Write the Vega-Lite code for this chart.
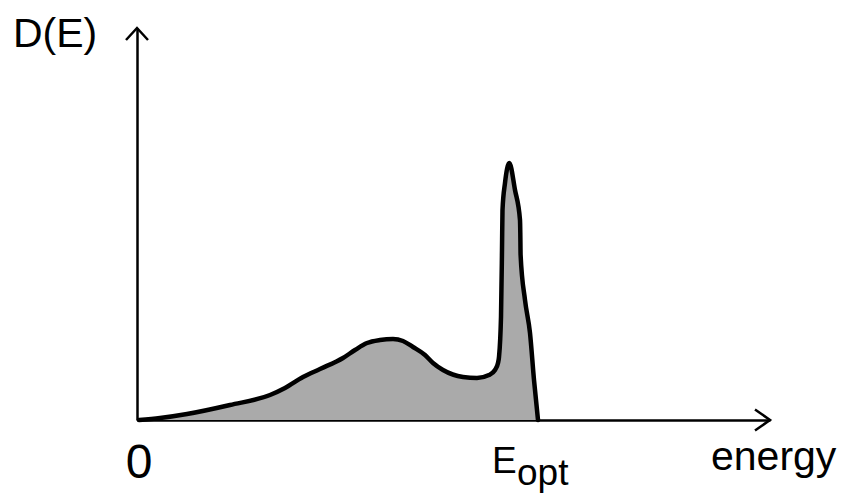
{
  "$schema": "https://vega.github.io/schema/vega-lite/v6.json",
  "width": 633,
  "height": 392,
  "autosize": {"type": "none"},
  "padding": {"left": 137, "top": 28, "right": 75, "bottom": 73},
  "background": "white",
  "config": {"view": {"stroke": null}, "font": "Liberation Sans"},
  "datasets": {
    "curve": [
      {"energy": 2, "D": 0},
      {"energy": 23, "D": 2},
      {"energy": 50, "D": 6},
      {"energy": 93, "D": 15},
      {"energy": 133, "D": 25},
      {"energy": 148, "D": 32},
      {"energy": 166, "D": 43},
      {"energy": 183, "D": 51},
      {"energy": 206, "D": 62},
      {"energy": 218, "D": 70},
      {"energy": 230, "D": 77},
      {"energy": 243, "D": 80},
      {"energy": 256, "D": 81},
      {"energy": 266, "D": 79},
      {"energy": 276, "D": 73},
      {"energy": 288, "D": 65},
      {"energy": 296, "D": 57},
      {"energy": 306, "D": 50},
      {"energy": 326, "D": 43},
      {"energy": 340, "D": 42},
      {"energy": 352, "D": 45},
      {"energy": 358, "D": 50},
      {"energy": 361, "D": 57},
      {"energy": 362, "D": 63},
      {"energy": 364, "D": 103},
      {"energy": 365, "D": 170},
      {"energy": 365.5, "D": 210},
      {"energy": 368, "D": 237},
      {"energy": 372.3, "D": 257},
      {"energy": 378, "D": 230},
      {"energy": 383, "D": 200},
      {"energy": 383.3, "D": 187},
      {"energy": 383.6, "D": 165},
      {"energy": 388, "D": 120},
      {"energy": 393, "D": 87},
      {"energy": 397, "D": 40},
      {"energy": 401, "D": 0}
    ],
    "arrows": [
      {"energy": 633, "D": 0, "dir": "x"},
      {"energy": 0, "D": 392, "dir": "y"}
    ],
    "labels": [
      {"energy": -124, "D": 373, "label": "D(E)"},
      {"energy": 2, "D": -58, "label": "0"},
      {"energy": 355, "D": -53, "label": "E"},
      {"energy": 380, "D": -65, "label": "opt"},
      {"energy": 574, "D": -50, "label": "energy"}
    ]
  },
  "encoding": {
    "x": {"field": "energy", "type": "quantitative", "scale": {"domain": [0, 633], "nice": false, "zero": false}},
    "y": {"field": "D", "type": "quantitative", "scale": {"domain": [0, 392], "nice": false, "zero": false}}
  },
  "layer": [
    {
      "data": {"name": "curve"},
      "mark": {"type": "area", "color": "#aaaaaa", "interpolate": "monotone", "opacity": 1},
      "encoding": {
        "x": {"field": "energy", "type": "quantitative", "axis": {"domain": true, "domainColor": "black", "domainWidth": 2.5, "ticks": false, "labels": false, "grid": false, "title": null}},
        "y": {"field": "D", "type": "quantitative", "axis": {"domain": true, "domainColor": "black", "domainWidth": 2.5, "ticks": false, "labels": false, "grid": false, "title": null}}
      }
    },
    {
      "data": {"name": "curve"},
      "mark": {"type": "line", "color": "black", "strokeWidth": 4.5, "interpolate": "monotone", "strokeJoin": "round", "strokeCap": "round"},
      "encoding": {}
    },
    {
      "data": {"name": "arrows"},
      "mark": {"type": "point", "filled": false, "stroke": "black", "strokeWidth": 2.5, "size": 400, "opacity": 1, "clip": false},
      "encoding": {
        "shape": {"field": "dir", "type": "nominal", "scale": {"domain": ["x", "y"], "range": ["M -1.5 -1.05 L 0 0 L -1.5 1.05", "M -1.1 1.2 L 0 0 L 1.1 1.2"]}, "legend": null}
      }
    },
    {
      "data": {"name": "labels"},
      "transform": [{"filter": "datum.label === 'D(E)' || datum.label === 'energy'"}],
      "mark": {"type": "text", "align": "left", "baseline": "alphabetic", "fontSize": 41, "color": "black", "clip": false},
      "encoding": {"text": {"field": "label", "type": "nominal"}}
    },
    {
      "data": {"name": "labels"},
      "transform": [{"filter": "datum.label === 'E' || datum.label === 'opt'"}],
      "mark": {"type": "text", "align": "left", "baseline": "alphabetic", "fontSize": 37, "color": "black", "clip": false},
      "encoding": {"text": {"field": "label", "type": "nominal"}}
    },
    {
      "data": {"name": "labels"},
      "transform": [{"filter": "datum.label === '0'"}],
      "mark": {"type": "text", "align": "center", "baseline": "alphabetic", "fontSize": 48, "color": "black", "clip": false},
      "encoding": {"text": {"field": "label", "type": "nominal"}}
    }
  ]
}
